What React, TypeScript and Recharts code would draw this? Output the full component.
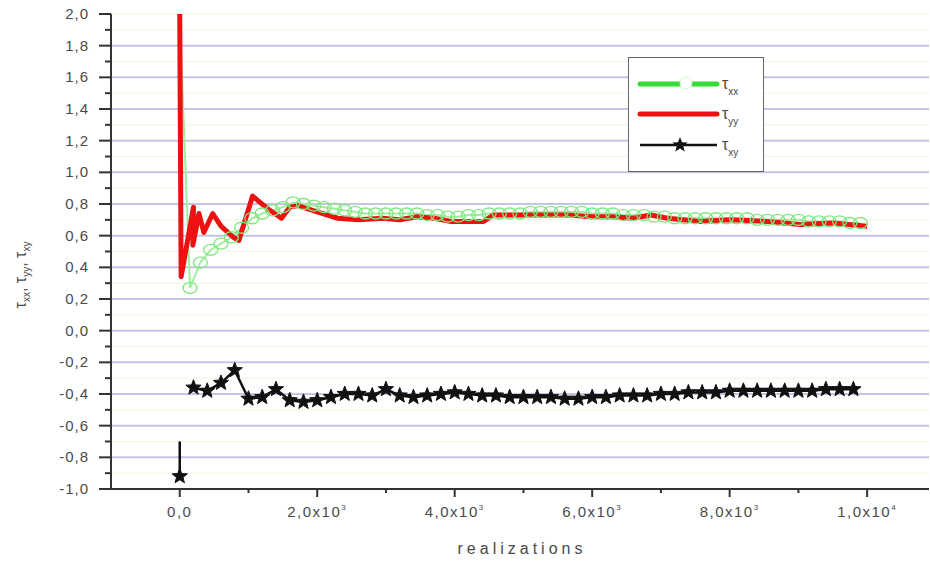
import React from "react";
import { LineChart, Line, XAxis, YAxis, CartesianGrid, ReferenceLine } from "recharts";

// tick values
const X_TICKS = [0, 1000, 2000, 3000, 4000, 5000, 6000, 7000, 8000, 9000, 10000];
const X_LABELS: Record<number, [string, string]> = {
  0: ["0,0", ""],
  2000: ["2,0x10", "3"],
  4000: ["4,0x10", "3"],
  6000: ["6,0x10", "3"],
  8000: ["8,0x10", "3"],
  10000: ["1,0x10", "4"],
};
const Y_TICKS = [
  -1.0, -0.9, -0.8, -0.7, -0.6, -0.5, -0.4, -0.3, -0.2, -0.1, 0.0,
  0.1, 0.2, 0.3, 0.4, 0.5, 0.6, 0.7, 0.8, 0.9, 1.0,
  1.1, 1.2, 1.3, 1.4, 1.5, 1.6, 1.7, 1.8, 1.9, 2.0,
];
const Y_GRID = [-0.8, -0.6, -0.4, -0.2, 0.0, 0.2, 0.4, 0.6, 0.8, 1.0, 1.2, 1.4, 1.6, 1.8];

// tau_xx (green open circles)
const TXX_X = [
  0, 150, 300, 450, 600, 750, 900, 1050, 1200, 1350, 1500, 1650, 1800, 1950,
  2100, 2250, 2400, 2550, 2700, 2850, 3000, 3150, 3300, 3450, 3600, 3750, 3900,
  4050, 4200, 4350, 4500, 4650, 4800, 4950, 5100, 5250, 5400, 5550, 5700, 5850,
  6000, 6150, 6300, 6450, 6600, 6750, 6900, 7050, 7200, 7350, 7500, 7650, 7800,
  7950, 8100, 8250, 8400, 8550, 8700, 8850, 9000, 9150, 9300, 9450, 9600, 9750, 9900,
];
const TXX_Y = [
  1.98, 0.27, 0.43, 0.51, 0.55, 0.59, 0.65, 0.71, 0.74, 0.76, 0.78, 0.81, 0.8, 0.79,
  0.78, 0.77, 0.76, 0.75, 0.74, 0.74, 0.74, 0.74, 0.74, 0.74, 0.73, 0.73, 0.72,
  0.72, 0.73, 0.73, 0.74, 0.74, 0.74, 0.74, 0.75, 0.75, 0.75, 0.75, 0.75, 0.75,
  0.74, 0.74, 0.74, 0.73, 0.73, 0.73, 0.72, 0.72, 0.71, 0.71, 0.71, 0.71, 0.71,
  0.71, 0.71, 0.71, 0.7, 0.7, 0.7, 0.7, 0.7, 0.69, 0.69, 0.69, 0.69, 0.68, 0.68,
];

// tau_yy (red line)
const TYY_X = [
  0, 20, 200, 190, 280, 350, 480, 600, 780, 860, 1060, 1280, 1480, 1600, 1720,
  2000, 2300, 2600, 2950, 3200, 3450, 3700, 3950, 4420, 4560, 4900, 5400, 5650,
  6000, 6300, 6600, 6850, 7100, 7570, 8000, 8550, 9030, 9500, 10000,
];
const TYY_Y = [
  2.0, 0.34, 0.78, 0.54, 0.74, 0.62, 0.74, 0.66, 0.59, 0.57, 0.85, 0.77, 0.71, 0.78, 0.79,
  0.75, 0.71, 0.7, 0.71, 0.7, 0.72, 0.71, 0.69, 0.69, 0.73, 0.73, 0.73, 0.73,
  0.72, 0.72, 0.71, 0.73, 0.71, 0.69, 0.7, 0.69, 0.67, 0.68, 0.66,
];

// tau_xy (black stars)
const TXY_START_X = [0, 0];
const TXY_START_Y = [-0.7, -0.92];
const TXY_X = [
  200, 400, 600, 800, 1000, 1200, 1400, 1600, 1800, 2000, 2200, 2400, 2600, 2800,
  3000, 3200, 3400, 3600, 3800, 4000, 4200, 4400, 4600, 4800, 5000, 5200, 5400,
  5600, 5800, 6000, 6200, 6400, 6600, 6800, 7000, 7200, 7400, 7600, 7800, 8000,
  8200, 8400, 8600, 8800, 9000, 9200, 9400, 9600, 9800,
];
const TXY_Y = [
  -0.36, -0.38, -0.33, -0.25, -0.43, -0.42, -0.37, -0.44, -0.45, -0.44, -0.42, -0.4, -0.4, -0.41,
  -0.37, -0.41, -0.42, -0.41, -0.4, -0.39, -0.4, -0.41, -0.41, -0.42, -0.42, -0.42, -0.42,
  -0.43, -0.43, -0.42, -0.42, -0.41, -0.41, -0.41, -0.4, -0.4, -0.39, -0.39, -0.39, -0.38,
  -0.38, -0.38, -0.38, -0.38, -0.38, -0.38, -0.37, -0.37, -0.37,
];

const zip = (xs: number[], ys: number[]) => xs.map((x, i) => ({ x, y: ys[i] }));
const txx = zip(TXX_X, TXX_Y);
const tyy = zip(TYY_X, TYY_Y);
const txyStart = zip(TXY_START_X, TXY_START_Y);
const txy = zip(TXY_X, TXY_Y);

const LABEL_COLOR = "#4a4a4a";
const FONT = "Arial, 'Liberation Sans', sans-serif";

const starPath = (cx: number, cy: number, R: number, r: number) => {
  let d = "";
  for (let i = 0; i < 10; i++) {
    const rad = i % 2 === 0 ? R : r;
    const a = -Math.PI / 2 + (i * Math.PI) / 5;
    d += (i === 0 ? "M" : "L") + (cx + rad * Math.cos(a)).toFixed(2) + "," + (cy + rad * Math.sin(a)).toFixed(2);
  }
  return d + "Z";
};

const StarDot = (props: any) => {
  const { cx, cy, index } = props;
  return <path key={`s-${index}`} d={starPath(cx, cy, 8, 3.4)} fill="#111" stroke="#111" strokeWidth={1} />;
};

const StartStar = (props: any) => {
  const { cx, cy, index } = props;
  if (index === 0) return <g key={`ss-${index}`} />;
  return <path key={`ss-${index}`} d={starPath(cx, cy, 8, 3.4)} fill="#111" stroke="#111" strokeWidth={1} />;
};

const CircleDot = (props: any) => {
  const { cx, cy, index } = props;
  if (index === 0) return <g key={`c-${index}`} />;
  return <ellipse key={`c-${index}`} cx={cx} cy={cy} rx={7} ry={5.5} fill="none" stroke="#7de87d" strokeWidth={1.3} />;
};

const XTick = (props: any) => {
  const { x, y, payload } = props;
  const v = payload.value;
  const lab = X_LABELS[v];
  return (
    <g>
      <line x1={x} x2={x} y1={y} y2={y + (lab ? 8 : 4)} stroke="#333" strokeWidth={2} />
      {lab && (
        <text x={x} y={y + 28} textAnchor="middle" fill={LABEL_COLOR} fontSize={15} fontFamily={FONT} letterSpacing={1.5}>
          {lab[0]}
          {lab[1] && <tspan dy={-7} fontSize={8}>{lab[1]}</tspan>}
        </text>
      )}
    </g>
  );
};

const YTick = (props: any) => {
  const { x, y, payload } = props;
  const v = payload.value;
  const major = Math.round(v * 10) % 2 === 0;
  return (
    <g>
      <line x1={x} x2={x - (major ? 12 : 6)} y1={y} y2={y} stroke="#333" strokeWidth={2} />
      {major && (
        <text x={x - 22} y={y + 5} textAnchor="end" fill={LABEL_COLOR} fontSize={15} fontFamily={FONT} letterSpacing={1}>
          {v.toFixed(1).replace(".", ",")}
        </text>
      )}
    </g>
  );
};

const LegendBox = () => (
  <div
    style={{
      position: "absolute", left: 628, top: 57, width: 136, height: 115,
      border: "1.5px solid #666", background: "#fff", boxSizing: "border-box",
    }}
  >
    <svg width={136} height={115} style={{ position: "absolute", left: -1, top: -1 }}>
      <line x1={12} x2={52} y1={27} y2={27} stroke="#33dd33" strokeWidth={5} strokeLinecap="round" />
      <line x1={64} x2={89} y1={27} y2={27} stroke="#33dd33" strokeWidth={5} strokeLinecap="round" />
      <ellipse cx={58} cy={26} rx={6} ry={6} fill="#fff" stroke="#ccf5cc" strokeWidth={1} />
      <line x1={12} x2={89} y1={57} y2={57} stroke="#ee1111" strokeWidth={5} strokeLinecap="round" />
      <line x1={12} x2={89} y1={88} y2={88} stroke="#111" strokeWidth={2.5} />
      <path d={starPath(52, 88, 8, 3.4)} fill="#111" />
      {[
        [27, "xx"],
        [57, "yy"],
        [88, "xy"],
      ].map(([yy, sub]) => (
        <text key={sub as string} x={94} y={(yy as number) + 5} fill={LABEL_COLOR} fontSize={16} fontFamily={FONT}>
          τ<tspan dy={6} fontSize={10}>{sub as string}</tspan>
        </text>
      ))}
    </svg>
  </div>
);

export default function App() {
  return (
    <div style={{ position: "absolute", left: 0, top: 0, width: 930, height: 565, background: "#fff", overflow: "hidden" }}>
      <LineChart width={930} height={565} margin={{ top: 14, right: 1, left: 0, bottom: 0 }}>
        <CartesianGrid vertical={false} stroke="#f3f3e2" strokeWidth={1} />
        {Y_GRID.map((v) => (
          <ReferenceLine key={v} y={v} stroke="#c4c4e6" strokeWidth={2} />
        ))}
        <XAxis
          type="number"
          dataKey="x"
          domain={[-1000, 10900]}
          ticks={X_TICKS}
          allowDataOverflow
          height={76}
          tickSize={0}
          tickMargin={0}
          tickLine={false}
          interval={0}
          axisLine={{ stroke: "#333", strokeWidth: 2 }}
          tick={<XTick />}
        />
        <YAxis
          type="number"
          dataKey="y"
          domain={[-1, 2]}
          ticks={Y_TICKS}
          allowDataOverflow
          width={111}
          tickSize={0}
          tickMargin={0}
          tickLine={false}
          interval={0}
          axisLine={{ stroke: "#333", strokeWidth: 2 }}
          tick={<YTick />}
        />
        <Line data={txx} dataKey="y" type="linear" stroke="#9ef09e" strokeWidth={2} dot={CircleDot} isAnimationActive={false} />
        <Line data={tyy} dataKey="y" type="linear" stroke="#ee1111" strokeWidth={5} strokeLinejoin="round" dot={false} isAnimationActive={false} />
        <Line data={txyStart} dataKey="y" type="linear" stroke="#111" strokeWidth={2.5} dot={StartStar} isAnimationActive={false} />
        <Line data={txy} dataKey="y" type="linear" stroke="#111" strokeWidth={2.5} dot={StarDot} isAnimationActive={false} />
      </LineChart>
      <LegendBox />
      <div
        style={{
          position: "absolute", left: 22, top: 275, transform: "translate(-50%, -50%) rotate(-90deg)",
          whiteSpace: "nowrap", fontFamily: FONT, fontSize: 16, color: LABEL_COLOR,
        }}
      >
        τ<sub style={{ fontSize: 10 }}>xx</sub>, τ<sub style={{ fontSize: 10 }}>yy</sub>, τ<sub style={{ fontSize: 10 }}>xy</sub>
      </div>
      <div
        style={{
          position: "absolute", left: 522, top: 549, transform: "translate(-50%, -50%)",
          whiteSpace: "nowrap", fontFamily: FONT, fontSize: 16, letterSpacing: 4, color: LABEL_COLOR,
        }}
      >
        realizations
      </div>
    </div>
  );
}
